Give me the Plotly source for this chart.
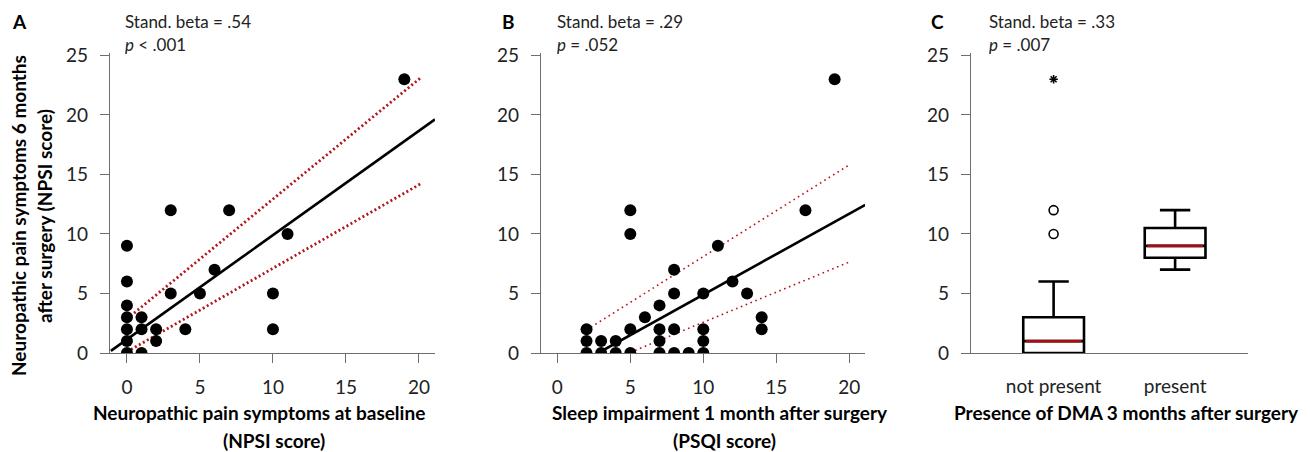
import plotly.graph_objects as go

# ---------------- data ----------------
# Panel A: NPSI baseline vs NPSI 6 months
a_x = [0, 0, 0, 0, 0, 0, 0, 1, 1, 1, 2, 2, 3, 3, 4, 5, 6, 7, 10, 10, 11, 19]
a_y = [9, 6, 4, 3, 2, 1, 0, 3, 2, 0, 2, 1, 12, 5, 2, 5, 7, 12, 5, 2, 10, 23]
a_fit_x = [-1.1, 21.1]
a_fit_y = [0.18, 19.62]
a_ci_up_x = [0, 20.1]
a_ci_up_y = [2.86, 23.1]
a_ci_lo_x = [0, 20.1]
a_ci_lo_y = [0.1, 14.2]

# Panel B: PSQI 1 month vs NPSI 6 months
b_x = [2, 2, 2, 3, 3, 4, 4, 5, 5, 5, 5, 6, 7, 7, 7, 7, 8, 8, 8, 8, 9,
       10, 10, 10, 10, 11, 12, 13, 14, 14, 17, 19]
b_y = [2, 1, 0, 1, 0, 1, 0, 12, 10, 2, 0, 3, 4, 2, 1, 0, 7, 5, 2, 0, 0,
       5, 2, 1, 0, 9, 6, 5, 3, 2, 12, 23]
b_fit_x = [2.8, 21.1]
b_fit_y = [0.0, 12.45]
b_ci_up_x = [2, 20]
b_ci_up_y = [1.94, 15.8]
b_ci_lo_x = [5, 20]
b_ci_lo_y = [0.05, 7.64]

# Panel C: box plots
c_categories = ["not present", "present"]
c_pos = [0, 1]
c_q1 = [0, 8]
c_median = [1, 9]
c_q3 = [3, 10.5]
c_lower = [0, 7]
c_upper = [6, 12]
c_out_x = [0, 0]
c_out_y = [10, 12]
c_ext_x = [0]
c_ext_y = [23]

x_ticks = [0, 5, 10, 15, 20]
y_ticks = [0, 5, 10, 15, 20, 25]

# ---------------- figure ----------------
W, H = 1310, 452
FONT = "Lato"
RED = "#b3151b"
AXIS_COL = "#6e6e6e"
TXT = "#222222"

def px(x):
    return x / W

def py(y):
    return 1 - y / H

ydom = [py(353), py(53)]

fig = go.Figure()

# Panel A
fig.add_trace(go.Scatter(x=a_ci_up_x, y=a_ci_up_y, mode="lines",
                         line=dict(color=RED, width=2.8, dash="2px,2.6px"),
                         xaxis="x", yaxis="y", showlegend=False))
fig.add_trace(go.Scatter(x=a_ci_lo_x, y=a_ci_lo_y, mode="lines",
                         line=dict(color=RED, width=2.8, dash="2px,2.6px"),
                         xaxis="x", yaxis="y", showlegend=False))
fig.add_trace(go.Scatter(x=a_fit_x, y=a_fit_y, mode="lines",
                         line=dict(color="black", width=2.6),
                         xaxis="x", yaxis="y", showlegend=False))
fig.add_trace(go.Scatter(x=a_x, y=a_y, mode="markers",
                         marker=dict(color="black", size=12, line=dict(width=0)),
                         xaxis="x", yaxis="y", showlegend=False))

# Panel B
fig.add_trace(go.Scatter(x=b_ci_up_x, y=b_ci_up_y, mode="lines",
                         line=dict(color=RED, width=1.6, dash="1.6px,3.6px"),
                         xaxis="x2", yaxis="y2", showlegend=False))
fig.add_trace(go.Scatter(x=b_ci_lo_x, y=b_ci_lo_y, mode="lines",
                         line=dict(color=RED, width=1.6, dash="1.6px,3.6px"),
                         xaxis="x2", yaxis="y2", showlegend=False))
fig.add_trace(go.Scatter(x=b_fit_x, y=b_fit_y, mode="lines",
                         line=dict(color="black", width=2.6),
                         xaxis="x2", yaxis="y2", showlegend=False))
fig.add_trace(go.Scatter(x=b_x, y=b_y, mode="markers",
                         marker=dict(color="black", size=12, line=dict(width=0)),
                         xaxis="x2", yaxis="y2", showlegend=False))

# Panel C
BOXW = 0.5
for i in range(len(c_pos)):
    fig.add_trace(go.Box(x=[c_pos[i]], q1=[c_q1[i]], median=[c_median[i]],
                         q3=[c_q3[i]], lowerfence=[c_lower[i]],
                         upperfence=[c_upper[i]], width=BOXW, whiskerwidth=0.5,
                         boxpoints=False, fillcolor="white",
                         line=dict(color="black", width=2.6),
                         xaxis="x3", yaxis="y3", showlegend=False))
    fig.add_trace(go.Scatter(x=[c_pos[i] - BOXW / 2 + 0.02, c_pos[i] + BOXW / 2 - 0.02],
                             y=[c_median[i], c_median[i]], mode="lines",
                             line=dict(color="#a50d12", width=2.6),
                             xaxis="x3", yaxis="y3", showlegend=False))
fig.add_trace(go.Scatter(x=c_out_x, y=c_out_y, mode="markers",
                         marker=dict(symbol="circle-open", color="black", size=9,
                                     line=dict(width=1.6, color="black")),
                         xaxis="x3", yaxis="y3", showlegend=False))
fig.add_trace(go.Scatter(x=c_ext_x, y=c_ext_y, mode="markers",
                         marker=dict(symbol="asterisk-open", color="black", size=7,
                                     line=dict(width=1.5, color="black")),
                         xaxis="x3", yaxis="y3", showlegend=False))

axis_common = dict(showline=True, linecolor=AXIS_COL, linewidth=1.2,
                   showgrid=False, zeroline=False, ticks="outside",
                   ticklen=9, tickcolor=AXIS_COL, tickwidth=1.2, automargin=False,
                   tickfont=dict(family=FONT, size=19, color=TXT))

yax = dict(axis_common, range=[0, 25.2], tickvals=y_ticks, domain=ydom,
           ticklabelstandoff=8)
xax = dict(axis_common, range=[-1.16, 21.1], tickvals=x_ticks,
           ticklabelstandoff=8)

fig.update_layout(
    width=W, height=H,
    margin=dict(l=0, r=0, t=0, b=0, autoexpand=False),
    paper_bgcolor="white", plot_bgcolor="white",
    showlegend=False,
    xaxis=dict(xax, domain=[px(110), px(435)], anchor="y"),
    yaxis=dict(yax, anchor="x"),
    xaxis2=dict(xax, range=[-1.12, 21.08], domain=[px(541), px(865)], anchor="y2"),
    yaxis2=dict(yax, anchor="x2"),
    xaxis3=dict(axis_common, range=[-0.68, 1.6], tickvals=c_pos,
                ticktext=c_categories, ticks="", ticklabelstandoff=16,
                domain=[px(971), px(1248)], anchor="y3"),
    yaxis3=dict(yax, anchor="x3"),
)

ann = []

def text(x, y, t, size=17, bold=False, xanchor="left", angle=0):
    ann.append(dict(x=px(x), y=py(y), xref="paper", yref="paper", text=t,
                    showarrow=False, xanchor=xanchor, yanchor="middle",
                    textangle=angle,
                    font=dict(family=FONT, size=size, color="black" if bold else TXT,
                              weight="bold" if bold else "normal")))

# panel letters
text(10, 21, "A", size=19, bold=True)
text(500, 21, "B", size=19, bold=True)
text(929, 21, "C", size=19, bold=True)

# stats
text(123, 21, "Stand. beta = .54")
text(123, 44, "<i>p</i> < .001")
text(555, 21, "Stand. beta = .29")
text(555, 44, "<i>p</i> = .052")
text(987, 21, "Stand. beta = .33")
text(987, 44, "<i>p</i> = .007")

# axis titles
text(259, 412, "Neuropathic pain symptoms at baseline", size=19, bold=True, xanchor="center")
text(274, 440, "(NPSI score)", size=19, bold=True, xanchor="center")
text(720, 412, "Sleep impairment 1 month after surgery", size=19, bold=True, xanchor="center")
text(724, 440, "(PSQI score)", size=19, bold=True, xanchor="center")
text(1126, 412, "Presence of DMA 3 months after surgery", size=19, bold=True, xanchor="center")
text(18, 216, "Neuropathic pain symptoms 6 months", size=19, bold=True, xanchor="center", angle=-90)
text(44, 216, "after surgery (NPSI score)", size=19, bold=True, xanchor="center", angle=-90)

fig.update_layout(annotations=ann)
fig.write_html("out.html")
